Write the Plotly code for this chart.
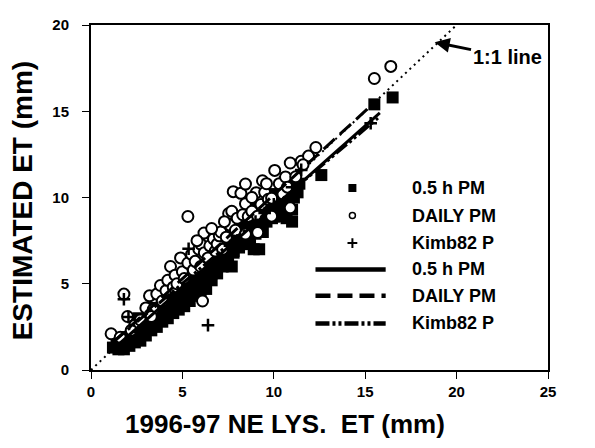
import plotly.graph_objects as go

# ---------------- data ----------------
# 0.5 h PM (filled squares)
sq_x = [1.2, 1.5, 1.8, 2.1, 2.4, 2.7, 3.0, 3.3, 3.6, 3.9, 4.2, 4.5, 4.8, 5.1, 5.4, 5.7,
        6.0, 6.3, 6.6, 6.9, 7.2, 7.5, 7.8, 8.1, 8.4, 8.7, 9.0, 9.3, 9.6, 9.9, 10.2, 10.5,
        10.8, 11.1, 9.2, 11.0, 12.6, 15.5, 16.5, 11.4,
        1.4, 1.9, 2.3, 2.8, 3.2, 3.6, 4.0, 4.4, 4.8, 5.2, 5.6, 6.0, 6.4, 6.8, 7.2, 7.6,
        8.0, 8.4, 8.8, 9.2, 9.6, 10.0, 10.4, 10.8, 11.2,
        2.6, 3.4, 4.2, 5.0, 5.8, 6.6, 7.4, 8.2, 9.0, 9.8, 10.6, 10.3, 11.0, 10.7, 9.4, 10.0,
        1.6, 2.0, 2.5, 2.9, 3.4, 3.8, 4.3, 4.7, 5.0, 5.3, 5.8, 6.2, 6.6, 7.0, 7.4, 7.8,
        8.2, 8.6, 9.0, 9.4, 9.8, 10.2, 10.6, 11.0, 11.3, 10.4, 8.9, 7.7]
sq_y = [1.3, 1.2, 1.2, 1.4, 1.6, 1.7, 2.0, 2.3, 2.5, 2.8, 3.0, 3.3, 3.5, 3.7, 4.0, 4.3,
        4.5, 4.7, 5.2, 5.6, 6.0, 6.4, 6.8, 7.1, 7.3, 7.6, 7.9, 8.3, 8.6, 8.8, 9.1, 9.4,
        9.6, 10.0, 7.0, 8.6, 11.3, 15.4, 15.8, 10.8,
        1.7, 1.9, 2.2, 2.5, 2.9, 3.2, 3.6, 4.0, 4.3, 4.7, 5.1, 5.5, 5.9, 6.3, 6.7, 7.1,
        7.6, 8.0, 8.5, 8.9, 9.4, 9.8, 10.2, 10.6, 11.0,
        3.0, 3.6, 4.5, 5.4, 6.1, 6.9, 7.8, 8.6, 9.4, 10.2, 10.9, 9.5, 9.3, 8.8, 8.0, 8.9,
        1.5, 1.7, 1.9, 2.2, 2.7, 3.0, 3.4, 3.8, 4.0, 4.3, 4.8, 5.1, 5.6, 6.1, 6.5, 6.9,
        7.3, 7.9, 8.3, 8.7, 9.1, 9.6, 10.0, 10.3, 10.3, 8.9, 7.0, 6.0]

# DAILY PM (open circles)
ci_x = [1.1, 1.6, 1.8, 2.0, 2.4, 2.7, 3.0, 3.2, 3.4, 3.6, 3.8, 3.9, 4.1, 4.2, 4.35, 4.5,
        4.6, 4.7, 4.9, 5.0, 5.1, 5.3, 5.3, 5.5, 5.6, 5.7, 5.9, 6.0, 6.0, 6.1, 6.2, 6.18,
        6.4, 6.5, 6.7, 6.8, 6.9, 7.02, 7.1, 7.2, 7.4, 7.53, 7.6, 7.7, 7.78, 7.9, 8.0, 8.2,
        8.3, 8.45, 8.45, 8.45, 8.6, 8.8, 9.04, 9.12, 9.12, 9.38, 9.3, 9.5, 9.7, 9.88, 9.88,
        10.05, 10.3, 10.5, 10.64, 10.9, 10.9, 10.75, 11.5, 11.2, 11.9, 11.6, 12.3, 15.5,
        16.4, 6.6, 5.8, 7.3, 8.8, 3.3, 2.2, 9.6]
ci_y = [2.1, 1.9, 4.4, 3.1, 2.6, 2.9, 3.6, 4.3, 3.5, 4.4, 4.9, 4.0, 4.6, 5.2, 6.0, 4.8,
        5.5, 5.0, 6.5, 5.7, 5.3, 6.2, 8.9, 6.7, 5.8, 6.3, 7.0, 6.0, 7.3, 4.0, 6.8, 7.94,
        6.5, 7.2, 7.6, 6.9, 7.3, 7.78, 8.0, 7.0, 7.7, 9.07, 8.4, 9.2, 10.34, 8.1, 8.8, 10.24,
        9.0, 10.78, 9.64, 7.88, 8.9, 9.2, 10.28, 8.92, 7.97, 10.97, 9.6, 10.3, 9.9, 9.96, 8.92,
        11.57, 10.8, 10.2, 11.19, 12.0, 9.4, 10.6, 12.1, 11.2, 12.4, 11.9, 12.9, 16.9,
        17.6, 8.2, 7.5, 8.6, 10.0, 3.1, 2.3, 10.8]

# Kimb82 P (plus signs)
pl_x = [1.8, 2.05, 5.34, 6.4, 5.6, 3.0, 4.0, 5.0, 6.0, 7.0, 8.0, 9.0, 10.0, 11.0, 11.5, 15.3, 2.6, 7.6, 9.5]
pl_y = [4.1, 3.07, 7.03, 2.6, 4.4, 2.6, 3.5, 4.5, 5.4, 6.5, 7.5, 8.6, 9.6, 10.6, 11.6, 14.3, 2.2, 7.2, 9.1]

# regression lines (end points)
reg_pm05_x = [1.2, 15.8]
reg_pm05_y = [1.2, 14.9]
reg_daily_x = [1.2, 15.5]
reg_daily_y = [1.6, 15.5]
reg_kimb_x = [1.3, 15.7]
reg_kimb_y = [1.7, 14.6]

# 1:1 line
one_x = [0, 20]
one_y = [0, 20]

x_ticks = [0, 5, 10, 15, 20, 25]
y_ticks = [0, 5, 10, 15, 20]
series_names = ["0.5 h PM", "DAILY PM", "Kimb82 P"]
x_title = "1996-97 NE LYS.\u00a0 ET (mm)"
y_title = "ESTIMATED ET (mm)"

# ---------------- styling ----------------
FONT = "Arial, Liberation Sans, sans-serif"
BLACK = "black"

fig = go.Figure()

fig.add_trace(go.Scatter(x=one_x, y=one_y, mode="lines", showlegend=False,
                         line=dict(color=BLACK, width=2, dash="2px,4px"), hoverinfo="skip"))

fig.add_trace(go.Scatter(x=sq_x, y=sq_y, mode="markers", name=series_names[0], showlegend=False,
                         marker=dict(symbol="square", size=12, color=BLACK)))
fig.add_trace(go.Scatter(x=ci_x, y=ci_y, mode="markers", name=series_names[1], showlegend=False,
                         marker=dict(symbol="circle", size=11, color="white",
                                     line=dict(color=BLACK, width=2))))
fig.add_trace(go.Scatter(x=pl_x, y=pl_y, mode="markers", name=series_names[2], showlegend=False,
                         marker=dict(symbol="cross-thin", size=9,
                                     line=dict(color=BLACK, width=2.5))))

DASH_SOLID = "solid"
DASH_DASHED = "15px,7px"
DASH_DDOT = "14px,3px,3px,3px,3px,3px"

fig.add_trace(go.Scatter(x=reg_pm05_x, y=reg_pm05_y, mode="lines", showlegend=False,
                         line=dict(color=BLACK, width=3, dash=DASH_SOLID)))
fig.add_trace(go.Scatter(x=reg_daily_x, y=reg_daily_y, mode="lines", showlegend=False,
                         line=dict(color=BLACK, width=3, dash=DASH_DASHED)))
fig.add_trace(go.Scatter(x=reg_kimb_x, y=reg_kimb_y, mode="lines", showlegend=False,
                         line=dict(color=BLACK, width=3, dash=DASH_DDOT)))

# ---------------- custom legend (inside plot area, in data units) ----------------
leg_rows = [10.55, 8.95, 7.36, 5.83, 4.3, 2.7]
leg_mark_x = 14.3
leg_line_x0, leg_line_x1 = 12.28, 16.12
leg_text_x = 17.45
leg_font = dict(family=FONT, size=18, color=BLACK, weight="bold")

fig.add_trace(go.Scatter(x=[leg_mark_x], y=[leg_rows[0]], mode="markers", showlegend=False,
                         hoverinfo="skip", marker=dict(symbol="square", size=8, color=BLACK)))
fig.add_trace(go.Scatter(x=[leg_mark_x], y=[leg_rows[1]], mode="markers", showlegend=False,
                         hoverinfo="skip", marker=dict(symbol="circle", size=6, color="white",
                                                       line=dict(color=BLACK, width=1.5))))
fig.add_trace(go.Scatter(x=[leg_mark_x], y=[leg_rows[2]], mode="markers", showlegend=False,
                         hoverinfo="skip", marker=dict(symbol="cross-thin", size=7,
                                                       line=dict(color=BLACK, width=2))))
for row, dash in zip(leg_rows[3:], [DASH_SOLID, DASH_DASHED, DASH_DDOT]):
    fig.add_shape(type="line", xref="x", yref="y", x0=leg_line_x0, x1=leg_line_x1,
                  y0=row, y1=row, line=dict(color=BLACK, width=4.5, dash=dash))

for row, name in zip(leg_rows, series_names + series_names):
    fig.add_annotation(x=leg_text_x, y=row, xref="x", yref="y", text=name, showarrow=False,
                       xanchor="left", yanchor="middle", font=leg_font)

# 1:1 line label with arrow
fig.add_annotation(x=18.8, y=19.0, xref="x", yref="y", ax=22.76, ay=18.15, axref="x", ayref="y",
                   text="1:1 line", showarrow=True, arrowhead=2, arrowsize=1, arrowwidth=3,
                   arrowcolor=BLACK, font=dict(family=FONT, size=20, color=BLACK, weight="bold"))

# axis titles
fig.add_annotation(x=0.4254, y=-0.156, xref="paper", yref="paper", text=x_title, showarrow=False,
                   xanchor="center", yanchor="middle",
                   font=dict(family=FONT, size=26, color=BLACK, weight="bold"))
fig.add_annotation(x=-0.148, y=0.49, xref="paper", yref="paper", text=y_title, showarrow=False,
                   xanchor="center", yanchor="middle", textangle=-90,
                   font=dict(family=FONT, size=28, color=BLACK, weight="bold"))

axis_common = dict(showline=True, linecolor=BLACK, linewidth=2, mirror=True, ticks="outside",
                   ticklen=7, tickwidth=1, tickcolor=BLACK, showgrid=False, zeroline=False,
                   ticklabeloverflow="allow",
                   tickfont=dict(family=FONT, size=15, color=BLACK, weight="bold"))

fig.update_layout(
    width=595, height=448,
    margin=dict(l=83, r=55, t=8, b=86),
    plot_bgcolor="white", paper_bgcolor="white",
    showlegend=False,
    xaxis=dict(range=[0, 25], tickvals=x_ticks, **axis_common),
    yaxis=dict(range=[0, 20], tickvals=y_ticks, ticklabelstandoff=10, **axis_common),
)

fig.write_html("out.html")
